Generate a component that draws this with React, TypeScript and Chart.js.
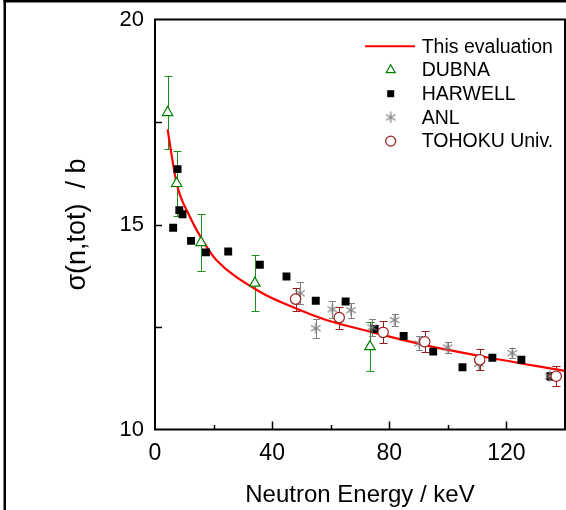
import React, { useEffect, useRef } from "react";
import { Chart, registerables } from "chart.js";

Chart.register(...registerables);

const FONT = "'Liberation Sans', Arial, Helvetica, sans-serif";

// Axis settings
const xMin = 0;
const xMax = 140;
const xStep = 20;
const xLabelEvery = 40;
const yMin = 10;
const yMax = 20;
const yStep = 2.5;
const yLabelEvery = 5;

// This evaluation (curve)
const evalEnergy = [4.3, 7.4, 11.9, 17.6, 21, 35.8, 47.2, 58.5, 73.3, 90.3, 111.9, 139.8];
const evalSigma = [17.32, 16.0, 15.19, 14.46, 14.13, 13.36, 12.98, 12.67, 12.39, 12.09, 11.78, 11.43];

// DUBNA
const dubnaEnergy = [4.3, 7.4, 15.7, 34.1, 73.4];
const dubnaSigma = [17.73, 16.0, 14.56, 13.57, 12.02];
const dubnaErr = [0.9, 0.8, 0.7, 0.68, 0.6];

// HARWELL
const harwellEnergy = [6.2, 7.7, 8.3, 9.4, 12.3, 17.4, 25, 35.8, 44.9, 54.9, 65.1, 75, 84.9, 95, 105, 115.2, 125.1, 135];
const harwellSigma = [14.92, 16.35, 15.35, 15.25, 14.6, 14.32, 14.34, 14.02, 13.73, 13.14, 13.12, 12.45, 12.28, 11.9, 11.52, 11.75, 11.7, 11.3];

// ANL
const anlEnergy = [49.5, 54.9, 60.6, 66.9, 74.1, 81.8, 90.2, 99.9, 110.6, 122, 134.8];
const anlSigma = [13.32, 12.47, 12.93, 12.91, 12.49, 12.67, 12.1, 12.0, 11.6, 11.86, 11.3];
const anlErr = [0.27, 0.23, 0.21, 0.18, 0.2, 0.15, 0.17, 0.14, 0.15, 0.12, 0.1];

// TOHOKU Univ.
const tohokuEnergy = [48, 62.9, 77.9, 92.1, 110.9, 137];
const tohokuSigma = [13.18, 12.73, 12.37, 12.14, 11.7, 11.3];
const tohokuErr = [0.28, 0.27, 0.27, 0.26, 0.26, 0.25];

const toPts = (xs: number[], ys: number[]) => xs.map((x, i) => ({ x, y: ys[i] }));

function makeAsterisk(size: number, color: string) {
  const c = document.createElement("canvas");
  c.width = size;
  c.height = size;
  const g = c.getContext("2d")!;
  g.strokeStyle = color;
  g.lineWidth = 1.3;
  const r = size / 2 - 0.5;
  const cx = size / 2;
  const cy = size / 2;
  for (const a of [90, 30, 150]) {
    const rad = (a * Math.PI) / 180;
    g.beginPath();
    g.moveTo(cx - r * Math.cos(rad), cy - r * Math.sin(rad));
    g.lineTo(cx + r * Math.cos(rad), cy + r * Math.sin(rad));
    g.stroke();
  }
  return c;
}

const framePlugin = {
  id: "frame",
  beforeDatasetsDraw(chart: any) {
    const { ctx, chartArea: a, scales } = chart;
    ctx.save();
    ctx.strokeStyle = "#000";
    ctx.lineWidth = 2;
    ctx.strokeRect(a.left, a.top, a.right - a.left, a.bottom - a.top);
    ctx.lineWidth = 1.5;
    const xs = scales.x;
    xs.ticks.forEach((t: any) => {
      if (t.value <= xMin || t.value >= xMax) return;
      const px = Math.round(xs.getPixelForValue(t.value)) + 0.5;
      const len = t.value % xLabelEvery === 0 ? 8 : 4.5;
      ctx.beginPath();
      ctx.moveTo(px, a.bottom);
      ctx.lineTo(px, a.bottom - len);
      ctx.stroke();
    });
    const ys = scales.y;
    ys.ticks.forEach((t: any) => {
      if (t.value <= yMin || t.value >= yMax) return;
      const py = Math.round(ys.getPixelForValue(t.value)) + 0.5;
      ctx.beginPath();
      ctx.moveTo(a.left, py);
      ctx.lineTo(a.left + 7, py);
      ctx.stroke();
    });
    ctx.restore();
  },
  afterDraw(chart: any) {
    const { ctx } = chart;
    ctx.save();
    ctx.fillStyle = "#000";
    ctx.fillRect(3.5, 0, chart.width, 2.5);
    ctx.fillRect(3.5, 0, 2.5, chart.height);
    ctx.restore();
  },
};

const errorBarPlugin = {
  id: "errorBars",
  beforeDatasetsDraw(chart: any) {
    const { ctx, scales } = chart;
    const xs = scales.x;
    const ys = scales.y;
    chart.data.datasets.forEach((ds: any) => {
      if (!ds.errors) return;
      ctx.save();
      ctx.strokeStyle = ds.errorColor;
      ctx.lineWidth = 1;
      ds.data.forEach((p: any, j: number) => {
        const e = ds.errors[j];
        const px = Math.round(xs.getPixelForValue(p.x)) + 0.5;
        const top = Math.round(ys.getPixelForValue(p.y + e)) + 0.5;
        const bot = Math.round(ys.getPixelForValue(p.y - e)) + 0.5;
        const cap = ds.capHalf;
        ctx.beginPath();
        ctx.moveTo(px, top);
        ctx.lineTo(px, bot);
        ctx.moveTo(px - cap, top);
        ctx.lineTo(px + cap, top);
        ctx.moveTo(px - cap, bot);
        ctx.lineTo(px + cap, bot);
        ctx.stroke();
      });
      ctx.restore();
    });
  },
};

const legendPlugin = {
  id: "insideLegend",
  afterDraw(chart: any) {
    const { ctx, chartArea: a } = chart;
    const rowH = 23.7;
    const y0 = a.top + 26.8;
    const markX = 390.7;
    const textX = 421.7;
    ctx.save();
    ctx.font = `19.5px ${FONT}`;
    ctx.textBaseline = "middle";
    ctx.textAlign = "left";
    ctx.fillStyle = "#000";
    chart.data.datasets.forEach((ds: any, i: number) => {
      const y = y0 + i * rowH;
      ctx.fillStyle = "#000";
      ctx.fillText(ds.label, textX, y + 1);
      if (ds.legendKind === "line") {
        ctx.strokeStyle = ds.borderColor;
        ctx.lineWidth = 2;
        ctx.beginPath();
        ctx.moveTo(365, y);
        ctx.lineTo(415, y);
        ctx.stroke();
      } else if (ds.legendKind === "triangle") {
        const r = 5.2;
        ctx.strokeStyle = ds.borderColor;
        ctx.lineWidth = 1.2;
        ctx.beginPath();
        ctx.moveTo(markX, y - r);
        ctx.lineTo(markX + r * 0.866, y + r * 0.5);
        ctx.lineTo(markX - r * 0.866, y + r * 0.5);
        ctx.closePath();
        ctx.stroke();
      } else if (ds.legendKind === "rect") {
        ctx.fillStyle = ds.backgroundColor;
        ctx.fillRect(markX - 3.5, y - 3.5, 7, 7);
      } else if (ds.legendKind === "star") {
        const img = ds.pointStyle;
        ctx.drawImage(img, markX - img.width / 2, y - img.height / 2);
      } else if (ds.legendKind === "circle") {
        ctx.strokeStyle = ds.borderColor;
        ctx.lineWidth = 1.2;
        ctx.beginPath();
        ctx.arc(markX, y, 5, 0, Math.PI * 2);
        ctx.stroke();
      }
    });
    ctx.restore();
  },
};

export default function App() {
  const ref = useRef<HTMLCanvasElement | null>(null);

  useEffect(() => {
    document.body.style.margin = "0";
    const canvas = ref.current!;
    const asterisk = makeAsterisk(12, "#808080");
    const chart = new Chart(canvas, {
      type: "scatter",
      data: {
        datasets: [
          {
            label: "This evaluation",
            data: toPts(evalEnergy, evalSigma),
            showLine: true,
            borderColor: "#ff0000",
            borderWidth: 2.2,
            pointRadius: 0,
            cubicInterpolationMode: "monotone",
            order: 10,
            legendKind: "line",
          } as any,
          {
            label: "DUBNA",
            data: toPts(dubnaEnergy, dubnaSigma),
            pointStyle: "triangle",
            pointRadius: 6,
            borderColor: "#008000",
            backgroundColor: "#ffffff",
            borderWidth: 1.2,
            errors: dubnaErr,
            errorColor: "#1f8f1f",
            capHalf: 4,
            order: 4,
            legendKind: "triangle",
          } as any,
          {
            label: "HARWELL",
            data: toPts(harwellEnergy, harwellSigma),
            pointStyle: "rect",
            pointRadius: 5.6,
            borderWidth: 0,
            borderColor: "#000000",
            backgroundColor: "#000000",
            order: 3,
            legendKind: "rect",
          } as any,
          {
            label: "ANL",
            data: toPts(anlEnergy, anlSigma),
            pointStyle: asterisk,
            pointRadius: 5,
            borderColor: "#808080",
            backgroundColor: "#808080",
            errors: anlErr,
            errorColor: "#808080",
            capHalf: 3.5,
            order: 2,
            legendKind: "star",
          } as any,
          {
            label: "TOHOKU Univ.",
            data: toPts(tohokuEnergy, tohokuSigma),
            pointStyle: "circle",
            pointRadius: 5.2,
            borderColor: "#9b1c1c",
            backgroundColor: "#ffffff",
            borderWidth: 1.2,
            errors: tohokuErr,
            errorColor: "#9b1c1c",
            capHalf: 4,
            order: 1,
            legendKind: "circle",
          } as any,
        ],
      },
      options: {
        animation: false,
        responsive: false,
        maintainAspectRatio: false,
        layout: { autoPadding: false, padding: { top: 19.5, right: 1, left: 0, bottom: 0 } },
        plugins: {
          legend: { display: false },
          tooltip: { enabled: false },
        },
        scales: {
          x: {
            type: "linear",
            min: xMin,
            max: xMax,
            grid: { display: false, drawTicks: true, tickLength: 10 },
            border: { display: false },
            ticks: {
              stepSize: xStep,
              autoSkip: false,
              maxRotation: 0,
              padding: 0,
              color: "#000",
              font: { family: FONT, size: 23 },
              callback: (v: any) => (Number(v) % xLabelEvery === 0 ? String(v) : ""),
            },
            title: {
              display: true,
              text: "Neutron Energy / keV",
              color: "#000",
              font: { family: FONT, size: 24 },
              padding: { top: 0, bottom: 0 },
            },
            afterFit: (s: any) => {
              s.height = 80.5;
            },
          },
          y: {
            type: "linear",
            min: yMin,
            max: yMax,
            grid: { display: false, drawTicks: true, tickLength: 11 },
            border: { display: false },
            ticks: {
              stepSize: yStep,
              autoSkip: false,
              padding: 0,
              color: "#000",
              font: { family: FONT, size: 22 },
              callback: (v: any) => (Number(v) % yLabelEvery === 0 ? String(v) : ""),
            },
            title: {
              display: true,
              text: "σ(n,tot)  / b",
              color: "#000",
              font: { family: FONT, size: 27 },
              padding: { top: 61, bottom: 0 },
            },
            afterFit: (s: any) => {
              s.width = 155;
            },
          },
        },
      } as any,
      plugins: [framePlugin, errorBarPlugin, legendPlugin],
    });
    return () => chart.destroy();
  }, []);

  return (
    <div style={{ position: "fixed", left: 0, top: 0, width: 566, height: 510, background: "#fff" }}>
      <canvas ref={ref} width={566} height={510} style={{ display: "block" }} />
    </div>
  );
}
